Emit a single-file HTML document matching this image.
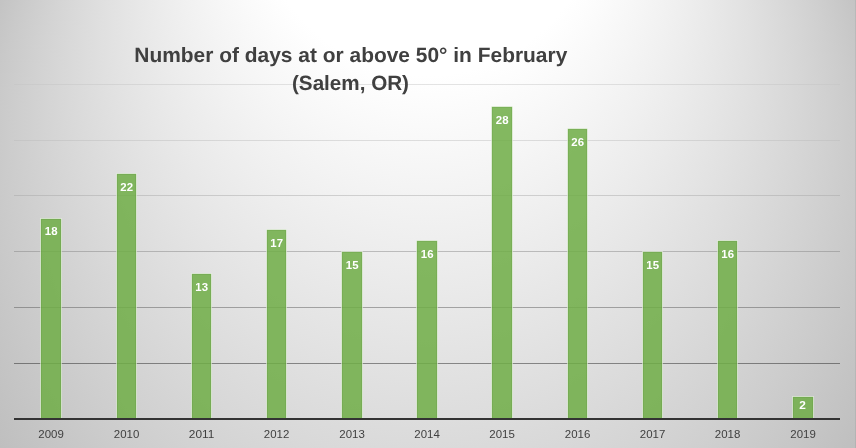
<!DOCTYPE html>
<html><head><meta charset="utf-8"><title>Number of days at or above 50° in February (Salem, OR)</title>
<style>
html,body{margin:0;padding:0;width:856px;height:448px;overflow:hidden;background:#d9d9d9}
svg{display:block;will-change:transform}
text{font-family:"Liberation Sans",sans-serif}
.t{font-weight:bold;font-size:20.7px;text-rendering:geometricPrecision;fill:#404040}
.c{font-size:11px;fill:#404040;text-anchor:middle}
.d{font-size:11px;font-weight:bold;fill:#fff;text-anchor:middle}
</style></head><body>
<svg width="856" height="448" viewBox="0 0 856 448">
<defs>
<radialGradient id="bg" gradientUnits="userSpaceOnUse" cx="0" cy="0" r="1" fx="0" fy="-0.995" gradientTransform="translate(428 217.12) scale(490.81 528)">
<stop offset="0" stop-color="#fff"/><stop offset="0.364" stop-color="#fff"/><stop offset="1" stop-color="#bdbdbd"/>
</radialGradient>
</defs>
<rect x="0" y="0" width="856" height="448" fill="url(#bg)"/>

<g shape-rendering="crispEdges">
<rect x="14" y="84" width="826" height="1" fill="rgb(195,195,195)" fill-opacity="0.45"/>
<rect x="14" y="140" width="826" height="1" fill="rgb(187,187,187)" fill-opacity="0.45"/>
<rect x="14" y="195" width="826" height="1" fill="rgb(165,165,165)" fill-opacity="0.45"/>
<rect x="14" y="251" width="826" height="1" fill="rgb(126,126,126)" fill-opacity="0.45"/>
<rect x="14" y="307" width="826" height="1" fill="rgb(78,78,78)" fill-opacity="0.45"/>
<rect x="14" y="363" width="826" height="1" fill="rgb(20,20,20)" fill-opacity="0.45"/>
</g>
<text class="t" x="134.3" y="61.8" textLength="433" lengthAdjust="spacingAndGlyphs">Number of days at or above 50° in February</text>
<text class="t" x="292" y="90.4" textLength="117" lengthAdjust="spacingAndGlyphs">(Salem, OR)</text>
<rect x="40.5" y="218.5" width="21" height="200.0" fill="#70ad47" fill-opacity="0.86" stroke="#fff" stroke-opacity="0.5" stroke-width="1"/>
<rect x="41.5" y="219.5" width="19" height="200.0" fill="none" stroke="#3f7d1c" stroke-opacity="0.13" stroke-width="1"/>
<text class="d" x="51.20" y="235.00" textLength="12.7" lengthAdjust="spacingAndGlyphs">18</text>
<text class="c" x="51.10" y="438" textLength="25.5" lengthAdjust="spacingAndGlyphs">2009</text>
<rect x="116.5" y="173.5" width="20" height="245.0" fill="#70ad47" fill-opacity="0.86" stroke="#fff" stroke-opacity="0.5" stroke-width="1"/>
<rect x="117.5" y="174.5" width="18" height="245.0" fill="none" stroke="#3f7d1c" stroke-opacity="0.13" stroke-width="1"/>
<text class="d" x="126.70" y="191.00" textLength="12.7" lengthAdjust="spacingAndGlyphs">22</text>
<text class="c" x="126.60" y="438" textLength="25.5" lengthAdjust="spacingAndGlyphs">2010</text>
<rect x="191.5" y="273.5" width="20" height="145.0" fill="#70ad47" fill-opacity="0.86" stroke="#fff" stroke-opacity="0.5" stroke-width="1"/>
<rect x="192.5" y="274.5" width="18" height="145.0" fill="none" stroke="#3f7d1c" stroke-opacity="0.13" stroke-width="1"/>
<text class="d" x="201.70" y="291.00" textLength="12.7" lengthAdjust="spacingAndGlyphs">13</text>
<text class="c" x="201.60" y="438" textLength="25.5" lengthAdjust="spacingAndGlyphs">2011</text>
<rect x="266.5" y="229.5" width="20" height="189.0" fill="#70ad47" fill-opacity="0.86" stroke="#fff" stroke-opacity="0.5" stroke-width="1"/>
<rect x="267.5" y="230.5" width="18" height="189.0" fill="none" stroke="#3f7d1c" stroke-opacity="0.13" stroke-width="1"/>
<text class="d" x="276.70" y="247.00" textLength="12.7" lengthAdjust="spacingAndGlyphs">17</text>
<text class="c" x="276.60" y="438" textLength="25.5" lengthAdjust="spacingAndGlyphs">2012</text>
<rect x="341.5" y="251.5" width="21" height="167.0" fill="#70ad47" fill-opacity="0.86" stroke="#fff" stroke-opacity="0.5" stroke-width="1"/>
<rect x="342.5" y="252.5" width="19" height="167.0" fill="none" stroke="#3f7d1c" stroke-opacity="0.13" stroke-width="1"/>
<text class="d" x="352.20" y="269.00" textLength="12.7" lengthAdjust="spacingAndGlyphs">15</text>
<text class="c" x="352.10" y="438" textLength="25.5" lengthAdjust="spacingAndGlyphs">2013</text>
<rect x="416.5" y="240.5" width="21" height="178.0" fill="#70ad47" fill-opacity="0.86" stroke="#fff" stroke-opacity="0.5" stroke-width="1"/>
<rect x="417.5" y="241.5" width="19" height="178.0" fill="none" stroke="#3f7d1c" stroke-opacity="0.13" stroke-width="1"/>
<text class="d" x="427.20" y="258.00" textLength="12.7" lengthAdjust="spacingAndGlyphs">16</text>
<text class="c" x="427.10" y="438" textLength="25.5" lengthAdjust="spacingAndGlyphs">2014</text>
<rect x="491.5" y="106.5" width="21" height="312.0" fill="#70ad47" fill-opacity="0.86" stroke="#fff" stroke-opacity="0.5" stroke-width="1"/>
<rect x="492.5" y="107.5" width="19" height="312.0" fill="none" stroke="#3f7d1c" stroke-opacity="0.13" stroke-width="1"/>
<text class="d" x="502.20" y="124.00" textLength="12.7" lengthAdjust="spacingAndGlyphs">28</text>
<text class="c" x="502.10" y="438" textLength="25.5" lengthAdjust="spacingAndGlyphs">2015</text>
<rect x="567.5" y="128.5" width="20" height="290.0" fill="#70ad47" fill-opacity="0.86" stroke="#fff" stroke-opacity="0.5" stroke-width="1"/>
<rect x="568.5" y="129.5" width="18" height="290.0" fill="none" stroke="#3f7d1c" stroke-opacity="0.13" stroke-width="1"/>
<text class="d" x="577.70" y="146.00" textLength="12.7" lengthAdjust="spacingAndGlyphs">26</text>
<text class="c" x="577.60" y="438" textLength="25.5" lengthAdjust="spacingAndGlyphs">2016</text>
<rect x="642.5" y="251.5" width="20" height="167.0" fill="#70ad47" fill-opacity="0.86" stroke="#fff" stroke-opacity="0.5" stroke-width="1"/>
<rect x="643.5" y="252.5" width="18" height="167.0" fill="none" stroke="#3f7d1c" stroke-opacity="0.13" stroke-width="1"/>
<text class="d" x="652.70" y="269.00" textLength="12.7" lengthAdjust="spacingAndGlyphs">15</text>
<text class="c" x="652.60" y="438" textLength="25.5" lengthAdjust="spacingAndGlyphs">2017</text>
<rect x="717.5" y="240.5" width="20" height="178.0" fill="#70ad47" fill-opacity="0.86" stroke="#fff" stroke-opacity="0.5" stroke-width="1"/>
<rect x="718.5" y="241.5" width="18" height="178.0" fill="none" stroke="#3f7d1c" stroke-opacity="0.13" stroke-width="1"/>
<text class="d" x="727.70" y="258.00" textLength="12.7" lengthAdjust="spacingAndGlyphs">16</text>
<text class="c" x="727.60" y="438" textLength="25.5" lengthAdjust="spacingAndGlyphs">2018</text>
<rect x="792.5" y="396.5" width="21" height="22.0" fill="#70ad47" fill-opacity="0.86" stroke="#fff" stroke-opacity="0.5" stroke-width="1"/>
<rect x="793.5" y="397.5" width="19" height="22.0" fill="none" stroke="#3f7d1c" stroke-opacity="0.13" stroke-width="1"/>
<text class="d" x="802.60" y="408.80" textLength="6.6" lengthAdjust="spacingAndGlyphs">2</text>
<text class="c" x="803.10" y="438" textLength="25.5" lengthAdjust="spacingAndGlyphs">2019</text>
<rect x="14" y="418" width="826" height="2" fill="#333"/>
<rect x="855" y="0" width="1" height="448" fill="#000" fill-opacity="0.06"/>
</svg></body></html>
